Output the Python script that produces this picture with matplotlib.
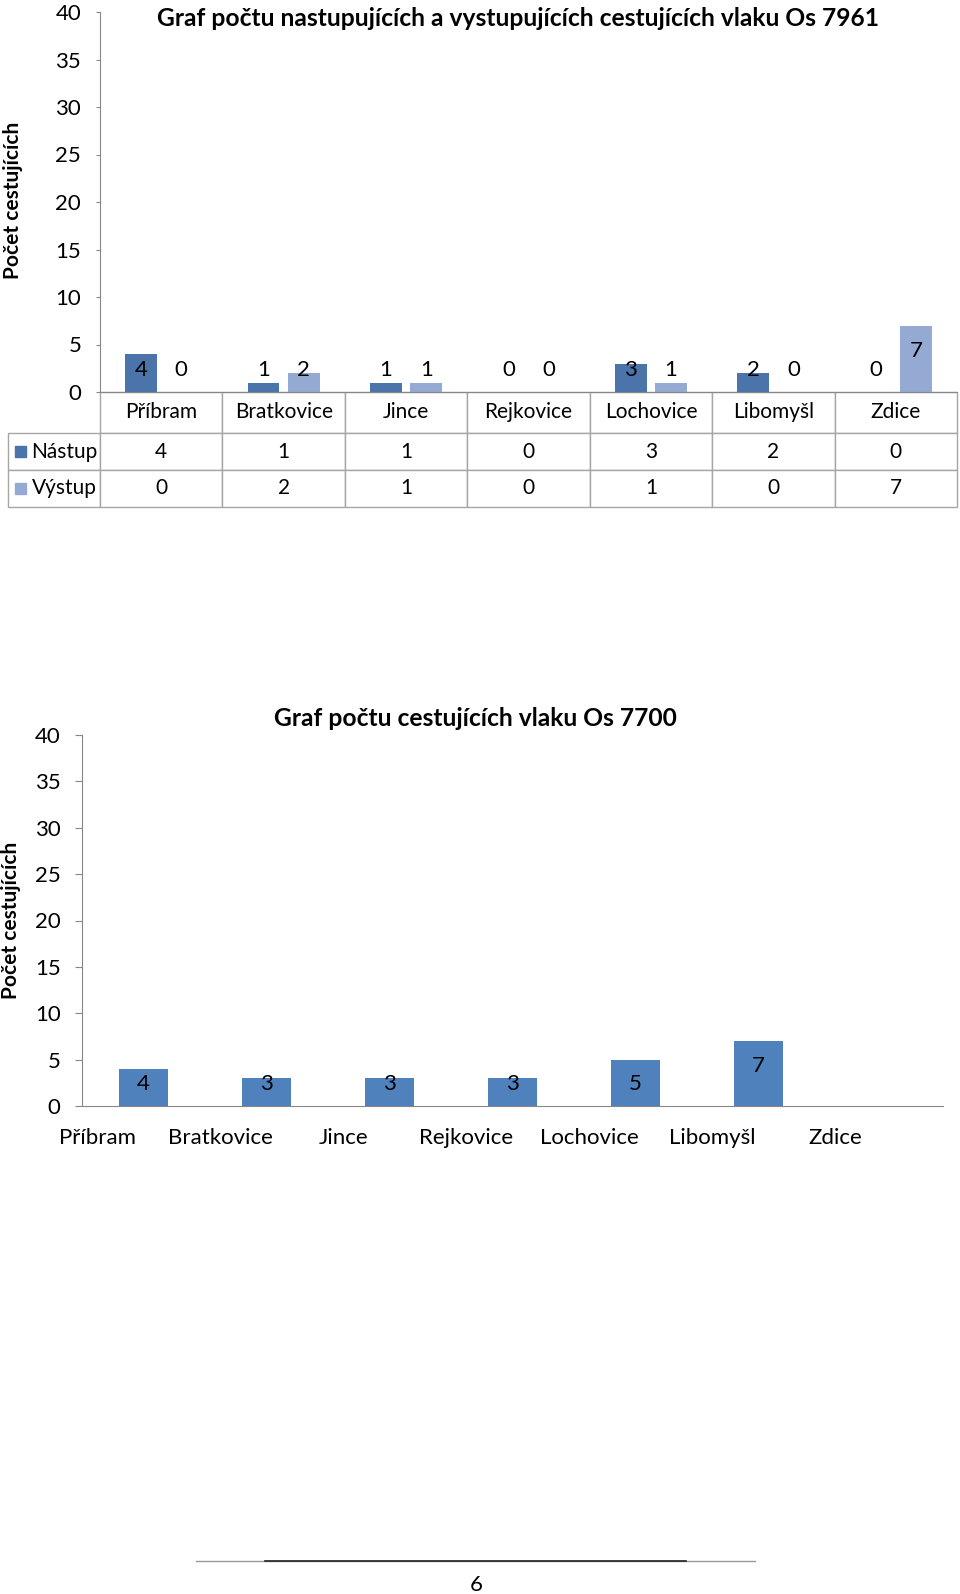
import matplotlib.pyplot as plt
from matplotlib.patches import Rectangle
from matplotlib.lines import Line2D
from matplotlib.table import Table
import matplotlib.transforms as mtransforms
import numpy as np

plt.rcParams['font.family'] = ['Lato', 'DejaVu Sans']

# data
stanice = ['Příbram', 'Bratkovice', 'Jince', 'Rejkovice', 'Lochovice', 'Libomyšl', 'Zdice']
nastup = [4, 1, 1, 0, 3, 2, 0]
vystup = [0, 2, 1, 0, 1, 0, 7]
radky = ['Nástup', 'Výstup']
cestujici_7700 = [4, 3, 3, 3, 5, 7, np.nan]

barva_nastup = '#4a74aa'
barva_vystup = '#95aad3'
barva_7700 = '#4f81bd'
seda = '#878787'
seda_tab = '#a6a6a6'
fs = 16
fs_tab = 15

W, H = 960, 1594
fig = plt.figure(figsize=(W / 100, H / 100), dpi=100)


def osa(l, t, r, b):
    return fig.add_axes([l / W, 1 - b / H, (r - l) / W, (b - t) / H])


def vyska_popisku(v):
    # Excel: popisek uvnitř konce sloupce, u nízkých sloupců pevná výška
    return max(v - 2.65, 2.35)


def uprav_osy(ax, delka_ticku):
    for s in ['top', 'right']:
        ax.spines[s].set_visible(False)
    ax.spines['left'].set_color(seda)
    ax.spines['bottom'].set_color(seda)
    ax.set_ylim(0, 40)
    ax.set_yticks(range(0, 41, 5))
    ax.set_xlim(-0.5, len(stanice) - 0.5)
    ax.tick_params(axis='y', length=delka_ticku, color=seda, pad=10.5, labelsize=fs)


x = np.arange(len(stanice))

# graf 1 - nastupujici a vystupujici
ax1 = osa(100, 12, 957, 392)
ax1.bar(x - 0.164, nastup, 0.26, color=barva_nastup)
ax1.bar(x + 0.164, vystup, 0.26, color=barva_vystup)
for i in range(len(stanice)):
    ax1.text(x[i] - 0.164, vyska_popisku(nastup[i]), str(nastup[i]), ha='center', va='center', fontsize=fs)
    ax1.text(x[i] + 0.164, vyska_popisku(vystup[i]), str(vystup[i]), ha='center', va='center', fontsize=fs)
uprav_osy(ax1, 3)
ax1.set_xticks([])

# tabulka s daty pod grafem (sloupec s nazvy radku visi vlevo od bboxu)
sirka_hlav = 92 / 857
v_hlav = 41 / 380
v_radek = 37 / 380
tab = Table(ax1, bbox=[0, -(v_hlav + 2 * v_radek), 1, v_hlav + 2 * v_radek])
tab.auto_set_font_size(False)
for j, s in enumerate(stanice):
    tab.add_cell(0, j, 1 / 7, v_hlav, text=s, loc='center', edgecolor=seda_tab)
for i, (nazev, hodnoty) in enumerate(zip(radky, [nastup, vystup])):
    c = tab.add_cell(i + 1, -1, sirka_hlav, v_radek, text=nazev, loc='right', edgecolor=seda_tab)
    c.PAD = 0.03
    for j, v in enumerate(hodnoty):
        tab.add_cell(i + 1, j, 1 / 7, v_radek, text=str(v), loc='center', edgecolor=seda_tab)
tab.set_fontsize(fs_tab)
ax1.add_table(tab)

for i, barva in enumerate([barva_nastup, barva_vystup]):
    stred = -v_hlav - v_radek * (i + 0.5)
    ax1.add_patch(Rectangle((-85 / 857, stred - 5.5 / 380), 11 / 857, 11 / 380,
                            transform=ax1.transAxes, color=barva, clip_on=False))

fig.text(518 / W, 1 - 19 / H, 'Graf počtu nastupujících a vystupujících cestujících vlaku Os 7961',
         ha='center', va='center', fontsize=17.7, fontweight='bold')
fig.text(13 / W, 1 - 200 / H, 'Počet cestujících', rotation=90, ha='center', va='center',
         fontsize=15, fontweight='bold')

# graf 2 - cestujici vlaku Os 7700
ax2 = osa(82, 735, 943, 1106)
ax2.bar(x, cestujici_7700, 0.4, color=barva_7700)
for i, v in enumerate(cestujici_7700):
    if not np.isnan(v):
        ax2.text(x[i], vyska_popisku(v), str(int(v)), ha='center', va='center', fontsize=fs)
uprav_osy(ax2, 5)
ax2.set_xticks(x, stanice)
ax2.tick_params(axis='x', length=0, pad=16, labelsize=fs)
posun = mtransforms.ScaledTranslation(-0.46, 0, fig.dpi_scale_trans)
for lab in ax2.get_xticklabels():
    lab.set_transform(lab.get_transform() + posun)

fig.text(475 / W, 1 - 719 / H, 'Graf počtu cestujících vlaku Os 7700',
         ha='center', va='center', fontsize=17.7, fontweight='bold')
fig.text(11 / W, 1 - 920 / H, 'Počet cestujících', rotation=90, ha='center', va='center',
         fontsize=15, fontweight='bold')

# zapati stranky
fig.add_artist(Line2D([196 / W, 755 / W], [1 - 1561 / H] * 2, color='#999999', lw=1))
fig.add_artist(Line2D([265 / W, 686 / W], [1 - 1561 / H] * 2, color='#222222', lw=1.2))
fig.text(476 / W, 1 - 1585 / H, '6', ha='center', va='center', fontsize=fs)

plt.savefig('out.png', dpi=100)
